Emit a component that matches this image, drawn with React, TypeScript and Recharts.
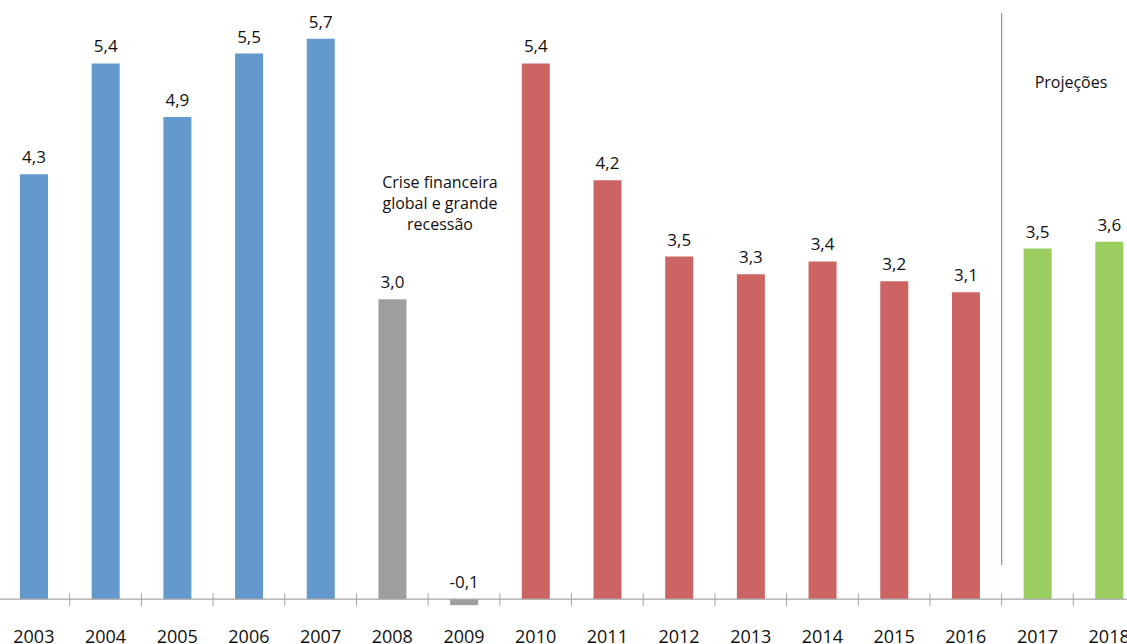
import { Bar, BarChart, Cell, LabelList, ReferenceLine, XAxis, YAxis } from "recharts";

const years = ["2003", "2004", "2005", "2006", "2007", "2008", "2009", "2010", "2011", "2012", "2013", "2014", "2015", "2016", "2017", "2018"];
const growth = [4.29, 5.41, 4.87, 5.51, 5.66, 3.03, -0.06, 5.41, 4.23, 3.46, 3.28, 3.41, 3.21, 3.1, 3.54, 3.61];
const period = ["pre", "pre", "pre", "pre", "pre", "crise", "crise", "pos", "pos", "pos", "pos", "pos", "pos", "pos", "proj", "proj"];

const colors: Record<string, string> = {
  pre: "#6399CD",
  crise: "#A09FA0",
  pos: "#CD6464",
  proj: "#9BCC60",
};

const data = years.map((year, i) => ({ year, value: growth[i], period: period[i] }));

const font = "'Open Sans', sans-serif";

function ValueLabel(props: any) {
  const { x, y, width, height, value } = props;
  const top = Math.min(y, y + height);
  return (
    <text x={x + width / 2} y={top - 11} textAnchor="middle" fontSize={17} fontFamily={font} fill="#111">
      {Number(value).toFixed(1).replace(".", ",")}
    </text>
  );
}

export default function App() {
  return (
    <div style={{ position: "fixed", left: 0, top: 0, width: 1127, height: 644, overflow: "hidden", background: "#fff" }}>
      <div style={{ position: "absolute", left: -2.5, top: 0 }}>
        <BarChart width={1147} height={650} data={data} margin={{ top: 5, right: 0, bottom: 0, left: 0 }} barSize={28}>
          <YAxis hide domain={[-0.2, 6]} />
          <XAxis
            dataKey="year"
            height={31}
            axisLine={false}
            tickLine={false}
            tickSize={0}
            tickMargin={11}
            interval={0}
            tick={{ fontSize: 18, fontFamily: font, fill: "#111" }}
          />
          <ReferenceLine y={0} stroke="#A6A6A6" strokeWidth={1.3} />
          {years.map((y) => (
            <ReferenceLine
              key={y}
              segment={[{ x: y, y: -0.07 }, { x: y, y: 0.063 }]}
              position="start"
              stroke="#A6A6A6"
            />
          ))}
          <ReferenceLine
            segment={[{ x: "2017", y: 5.92 }, { x: "2017", y: 0.345 }]}
            position="start"
            stroke="#9A9A9A"
            strokeWidth={1.3}
          />
          <Bar dataKey="value" isAnimationActive={false}>
            {data.map((d) => (
              <Cell key={d.year} fill={colors[d.period]} />
            ))}
            <LabelList dataKey="value" content={<ValueLabel />} />
          </Bar>
        </BarChart>
      </div>
      <div
        style={{
          position: "absolute",
          left: 360,
          top: 172,
          width: 160,
          textAlign: "center",
          fontFamily: font,
          fontSize: 16,
          lineHeight: "21px",
          color: "#111",
        }}
      >
        Crise financeira
        <br />
        global e grande
        <br />
        recessão
      </div>
      <div
        style={{
          position: "absolute",
          left: 1011,
          top: 72,
          width: 120,
          textAlign: "center",
          fontFamily: font,
          fontSize: 16,
          lineHeight: "21px",
          color: "#111",
        }}
      >
        Projeções
      </div>
    </div>
  );
}
